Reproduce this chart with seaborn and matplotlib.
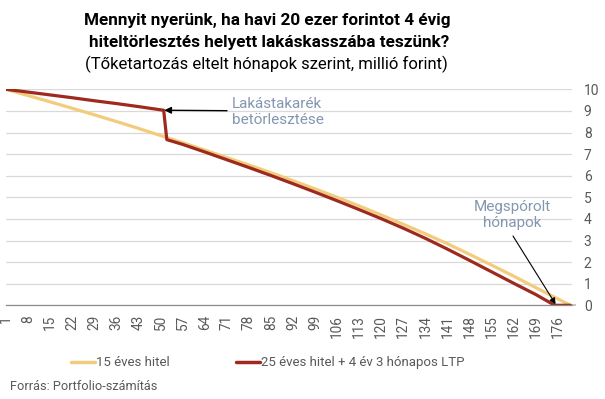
import matplotlib
matplotlib.use("Agg")
import matplotlib.pyplot as plt
import seaborn as sns
import pandas as pd
from matplotlib.lines import Line2D

# ---- data ----
months_15 = [1, 8, 15, 22, 29, 36, 43, 50, 57, 64, 71, 78, 85, 92, 99, 106,
             113, 120, 127, 134, 141, 148, 155, 162, 169, 176, 180]
balance_15 = [10.0, 9.71, 9.42, 9.12, 8.82, 8.51, 8.19, 7.86, 7.53, 7.19, 6.84,
              6.50, 6.14, 5.77, 5.39, 5.00, 4.60, 4.18, 3.75, 3.31, 2.85, 2.36,
              1.86, 1.35, 0.82, 0.30, 0.0]

months_ltp = [1, 8, 15, 22, 29, 36, 43, 50, 51, 52, 57, 64, 71, 78, 85, 92, 99,
              106, 113, 120, 127, 134, 141, 148, 155, 162, 169, 175, 180]
balance_ltp = [10.0, 9.87, 9.74, 9.61, 9.47, 9.34, 9.20, 9.05, 9.03, 7.67, 7.45,
               7.10, 6.74, 6.38, 6.01, 5.63, 5.24, 4.84, 4.43, 4.01, 3.57, 3.10,
               2.60, 2.08, 1.55, 1.02, 0.50, 0.0, 0.0]

series_names = ["15 éves hitel", "25 éves hitel + 4 év 3 hónapos LTP"]
series_colors = ["#F2CC7C", "#9E2A1E"]
tick_months = list(range(1, 177, 7))
y_ticks = list(range(0, 11))

title_l1 = "Mennyit nyerünk, ha havi 20 ezer forintot 4 évig"
title_l2 = "hiteltörlesztés helyett lakáskasszába teszünk?"
subtitle = "(Tőketartozás eltelt hónapok szerint, millió forint)"
source = "Forrás: Portfolio-számítás"
annot1 = "Lakástakarék\nbetörlesztése"
annot2 = "Megspórolt\nhónapok"

df = pd.concat([
    pd.DataFrame({"month": months_15, "value": balance_15, "series": series_names[0]}),
    pd.DataFrame({"month": months_ltp, "value": balance_ltp, "series": series_names[1]}),
], ignore_index=True)

sns.set_theme(style="white")
plt.rcParams["font.family"] = ["Roboto", "DejaVu Sans"]

grey = "#595959"
fig = plt.figure(figsize=(6.05, 3.99), dpi=100)
ax = fig.add_axes([6 / 605, 1 - 305.3 / 399, (572 - 6) / 605, (305.3 - 89.3) / 399])

sns.lineplot(data=df, x="month", y="value", hue="series", palette=series_colors,
             sort=False, estimator=None, linewidth=2.3, ax=ax, legend=False)

ax.set_xlim(1, 180.5)
ax.set_ylim(0, 10)
ax.set_xlabel("")
ax.set_ylabel("")
ax.set_xticks(tick_months)
ax.set_xticklabels([str(m) for m in tick_months], rotation=90, color=grey, fontsize=9.8)
ax.tick_params(axis="x", length=0, pad=7)
ax.set_yticks(y_ticks)
ax.set_yticklabels([str(v) for v in y_ticks], color=grey, fontsize=10)
ax.yaxis.tick_right()
ax.tick_params(axis="y", length=3, color="#BFBFBF", pad=5.5)
for i, t in enumerate(ax.yaxis.get_major_ticks()):
    if i != 0:
        t.tick2line.set_visible(False)
for t in ax.get_yticklabels():
    t.set_horizontalalignment("left")

ax.grid(axis="y", color="#D9D9D9", linewidth=0.9)
ax.grid(axis="x", visible=False)
for s in ["top", "left", "right"]:
    ax.spines[s].set_visible(False)
ax.spines["bottom"].set_color("#8C8C8C")
ax.spines["bottom"].set_linewidth(0.9)
ax.set_axisbelow(True)

# Annotations
ann_color = "#8497B0"
ax.annotate("", xy=(51.2, 9.03), xycoords="data",
            xytext=(227 / 605, 1 - 110.7 / 399), textcoords="figure fraction",
            arrowprops=dict(arrowstyle="-|>", color="black", lw=1.0,
                            mutation_scale=10, shrinkA=0, shrinkB=0))
fig.text(232 / 605, 1 - 112 / 399, annot1, color=ann_color, fontsize=11,
         ha="left", va="center", linespacing=1.25)

ax.annotate("", xy=(175.3, 0.05), xycoords="data",
            xytext=(513 / 605, 1 - 236 / 399), textcoords="figure fraction",
            arrowprops=dict(arrowstyle="-|>", color="black", lw=0.8,
                            mutation_scale=9, shrinkA=0, shrinkB=0))
fig.text(512 / 605, 1 - 215 / 399, annot2, color=ann_color, fontsize=11,
         ha="center", va="center", linespacing=1.25)

# Titles
fig.text(267 / 605, 1 - 20 / 399, title_l1, fontsize=12.3, fontweight="bold",
         ha="center", va="center", color="black")
fig.text(269 / 605, 1 - 42 / 399, title_l2, fontsize=12.3, fontweight="bold",
         ha="center", va="center", color="black")
fig.text(266 / 605, 1 - 64 / 399, subtitle, fontsize=12,
         ha="center", va="center", color="black")

# Legend
handles = [Line2D([0], [0], color=c, lw=2.5) for c in series_colors]
fig.legend(handles, series_names, loc="center", bbox_to_anchor=(268 / 605, 1 - 362.7 / 399),
           ncol=2, frameon=False, fontsize=9.5, handlelength=1.8, handletextpad=0.1,
           columnspacing=5.0, labelcolor=grey)

fig.text(10 / 605, 1 - 387 / 399, source, fontsize=9.2, color=grey, ha="left", va="center")

fig.savefig("out.png", dpi=100)
